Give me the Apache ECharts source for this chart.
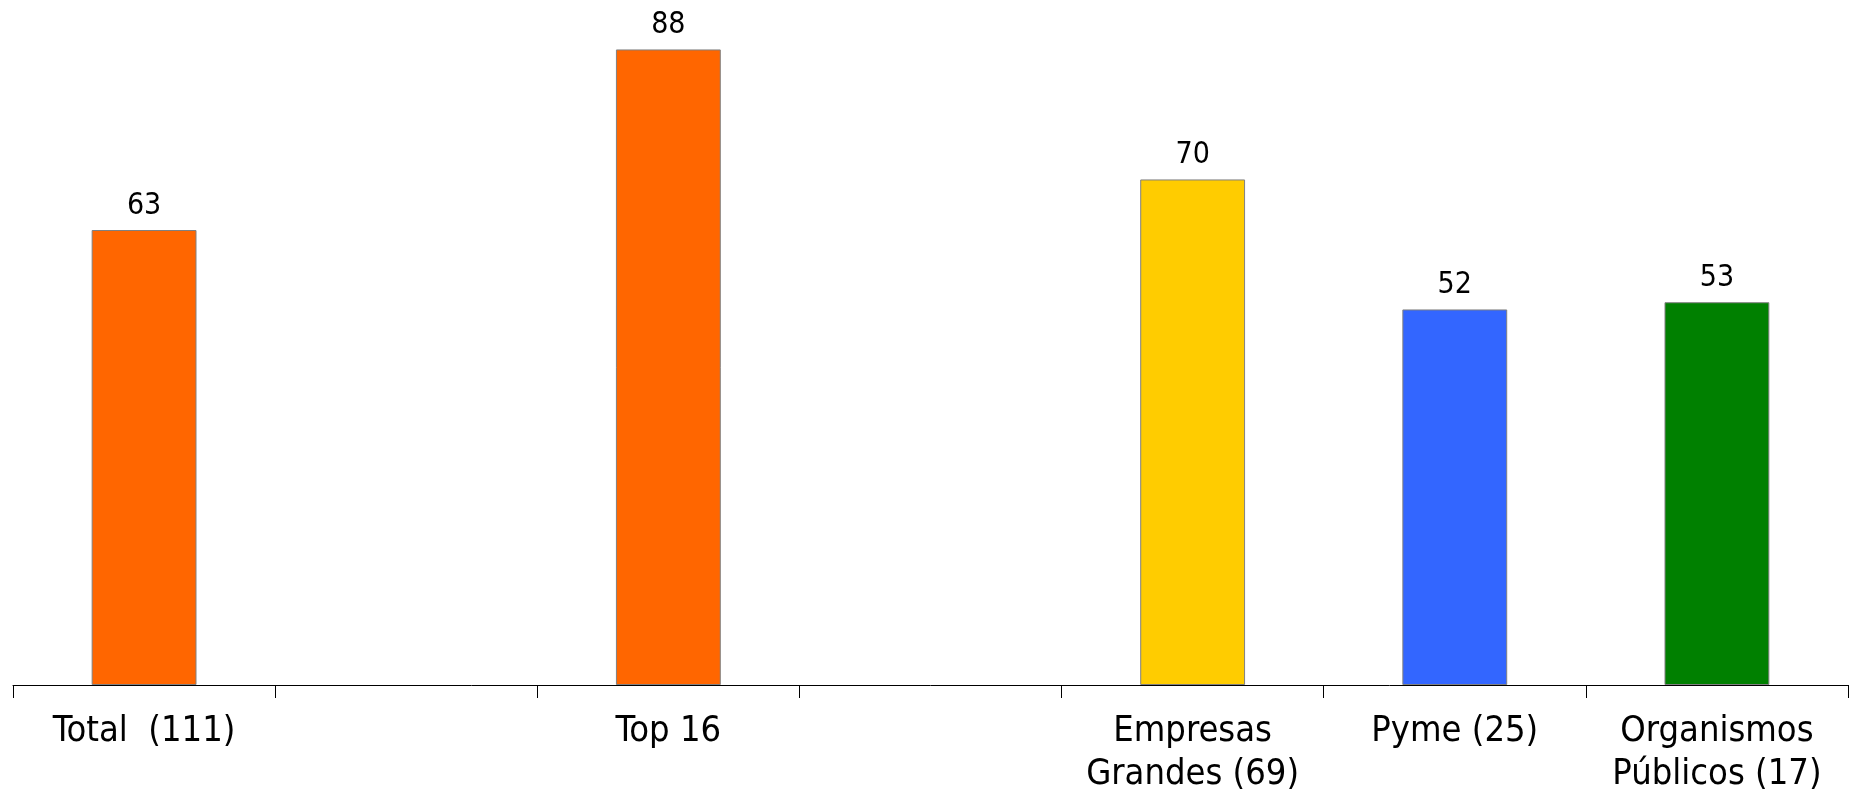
<!DOCTYPE html>
<html>
<head>
<meta charset="utf-8">
<script src="https://cdn.jsdelivr.net/npm/echarts@6/dist/echarts.min.js"></script>
<style>
html,body{margin:0;padding:0;background:#fff;}
#chart{width:1849px;height:790px;}
</style>
</head>
<body>
<div id="chart"></div>
<script>
const categories = ['Total  (111)', '', 'Top 16', '', 'Empresas\nGrandes (69)', 'Pyme (25)', 'Organismos\nPúblicos (17)'];
const values = [63, null, 88, null, 70, 52, 53];
const barColors = ['#FF6600', null, '#FF6600', null, '#FFCC00', '#3366FF', '#008000'];

const FONT = '"DejaVu Sans Condensed", "DejaVu Sans", sans-serif';
const chart = echarts.init(document.getElementById('chart'));
chart.setOption({
  animation: false,
  grid: { left: 13, right: 1, top: 35, bottom: 105, containLabel: false, outerBoundsMode: 'none' },
  xAxis: {
    type: 'category',
    data: categories,
    boundaryGap: true,
    axisLine: { show: true, lineStyle: { color: '#000', width: 1 } },
    axisTick: { show: true, interval: 0, length: 13, lineStyle: { color: '#000', width: 1 } },
    axisLabel: { interval: 0, color: '#000', fontSize: 36, fontFamily: FONT, lineHeight: 43, margin: 25 }
  },
  yAxis: {
    type: 'value', min: 0, max: 90,
    show: false,
    splitLine: { show: false }
  },
  series: [{
    type: 'bar',
    barWidth: '40%',
    data: values.map((v, i) => v == null ? null : { value: v, itemStyle: { color: barColors[i] } }),
    itemStyle: { borderColor: '#808080', borderWidth: 1 },
    label: { show: true, position: 'top', distance: 9, color: '#000', fontSize: 30, fontFamily: FONT }
  }]
});
</script>
</body>
</html>
